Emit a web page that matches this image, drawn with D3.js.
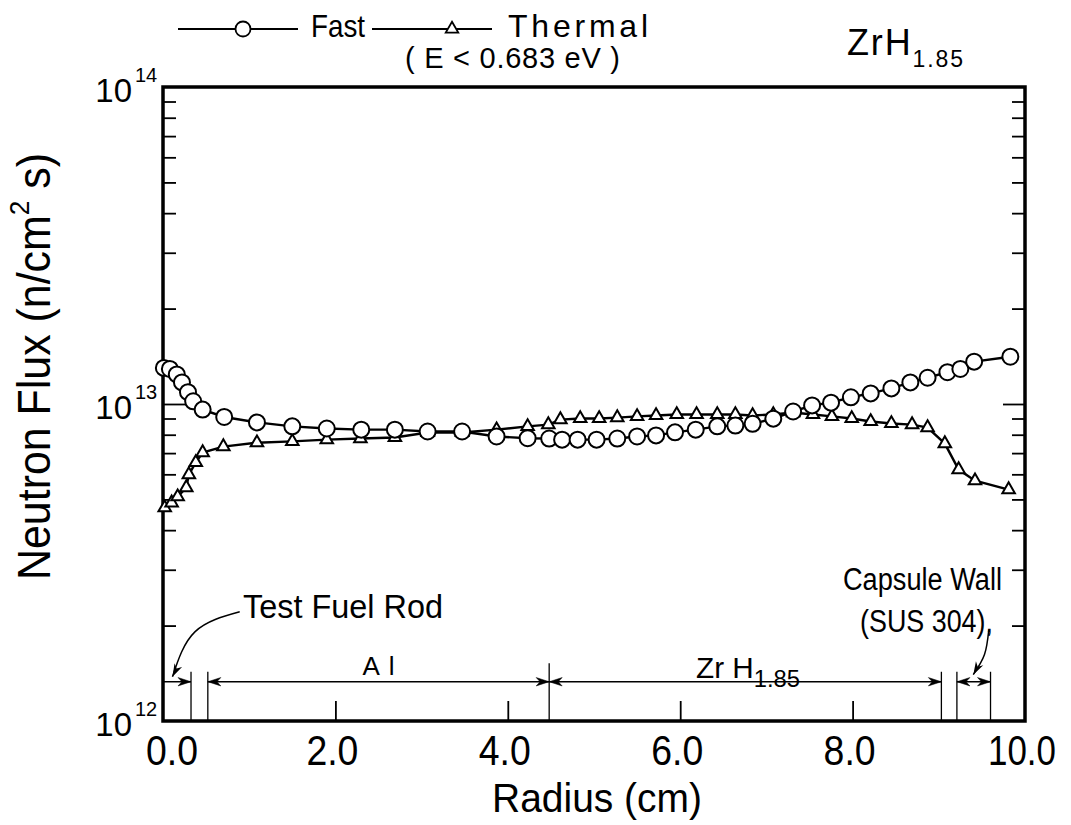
<!DOCTYPE html>
<html>
<head>
<meta charset="utf-8">
<script src="https://cdn.jsdelivr.net/npm/d3@7"></script>
<style>
  body { margin: 0; background: #fff; }
  svg { display: block; font-family: 'Liberation Sans', Arial, sans-serif; }
</style>
</head>
<body>
<div id="chart"></div>
<script>
// values: radius (cm) and flux (units of 1e12 n/cm2 s)
const fastRadius = [0.01, 0.08, 0.16, 0.22, 0.29, 0.35, 0.46, 0.71, 1.09, 1.50, 1.90, 2.30, 2.69, 3.07, 3.47, 3.87, 4.23,
  4.48, 4.63, 4.81, 5.03, 5.27, 5.50, 5.72, 5.94, 6.18, 6.43, 6.64, 6.84, 7.08, 7.31, 7.53, 7.75, 7.98, 8.21, 8.45, 8.67,
  8.87, 9.10, 9.25, 9.41, 9.83]
const fastFlux = [13.0, 12.9, 12.4, 11.7, 10.9, 10.2, 9.6, 9.1, 8.75, 8.5, 8.37, 8.3, 8.3, 8.19, 8.19, 7.9, 7.8,
  7.78, 7.72, 7.72, 7.72, 7.78, 7.9, 7.96, 8.14, 8.3, 8.5, 8.55, 8.66, 8.99, 9.47, 9.9, 10.1, 10.5, 10.8, 11.2, 11.7,
  12.1, 12.6, 12.9, 13.6, 14.1]

const thermalRadius = [0.02, 0.10, 0.17, 0.27, 0.30, 0.38, 0.46, 0.70, 1.09, 1.50, 1.90, 2.29, 2.69, 3.07, 3.47, 3.87, 4.23,
  4.47, 4.61, 4.84, 5.06, 5.27, 5.50, 5.72, 5.96, 6.19, 6.43, 6.64, 6.84, 7.08, 7.31, 7.54, 7.76, 7.99, 8.21, 8.45, 8.69,
  8.87, 9.07, 9.23, 9.42, 9.81]
const thermalFlux = [4.71, 4.88, 5.10, 5.45, 5.99, 6.54, 7.03, 7.34, 7.55, 7.62, 7.72, 7.78, 7.84, 8.13, 8.13, 8.3, 8.5,
  8.61, 8.93, 9.0, 9.0, 9.06, 9.14, 9.2, 9.27, 9.27, 9.27, 9.27, 9.2, 9.27, 9.4, 9.27, 9.14, 9.0, 8.81, 8.68, 8.61,
  8.43, 7.5, 6.21, 5.73, 5.37]

const xTicks = [0, 2, 4, 6, 8, 10]
const xTickLabels = ['0.0', '2.0', '4.0', '6.0', '8.0', '10.0']
const yDecades = [12, 13, 14]

// material boundaries (cm): fuel rod | gap | Al | ZrH1.85 | gap | capsule wall
const boundaries = [0.325, 0.52, 4.48, 9.03, 9.21, 9.6]

const W = 1071, H = 825
const x = d3.scaleLinear().domain([0, 10]).range([163, 1025])
const y = d3.scaleLog().domain([1e12, 1e14]).range([721, 87])

const svg = d3.select('#chart').append('svg')
  .attr('width', W)
  .attr('height', H)

const fast = fastRadius.map((r, i) => ({ r, v: fastFlux[i] * 1e12 }))
const thermal = thermalRadius.map((r, i) => ({ r, v: thermalFlux[i] * 1e12 }))

// the original lettering is a tall narrow face: squeeze text to its measured width,
// or spread the letters when it is already narrower
function fit(t, len) {
  const natural = t.node().getComputedTextLength()
  t.attr('textLength', len)
    .attr('lengthAdjust', natural > len ? 'spacingAndGlyphs' : 'spacing')
  return t
}
function label(g, px, py, str, size, len, anchor) {
  const t = g.append('text')
    .attr('x', px).attr('y', py)
    .attr('text-anchor', anchor || 'start')
    .style('font-size', size + 'px')
    .text(str)
  return fit(t, len)
}

// frame
svg.append('rect')
  .attr('x', x(0)).attr('y', y(1e14))
  .attr('width', x(10) - x(0)).attr('height', y(1e12) - y(1e14))
  .attr('fill', 'none').attr('stroke', '#000').attr('stroke-width', 3.5)

// minor / major ticks, all pointing inward
const minorVals = []
for (let d = 12; d < 14; d++) for (let k = 2; k <= 9; k++) minorVals.push(k * 10 ** d)

function ticks(g, axis) {
  g.call(axis.tickFormat(''))
  g.select('.domain').remove()
  g.selectAll('line').attr('stroke', '#000').attr('stroke-width', 1.8)
}
svg.append('g').attr('transform', `translate(${x(0)},0)`)
  .call(g => ticks(g, d3.axisRight(y).tickValues(minorVals).tickSize(13)))
svg.append('g').attr('transform', `translate(${x(0)},0)`)
  .call(g => ticks(g, d3.axisRight(y).tickValues([1e13]).tickSize(25)))
svg.append('g').attr('transform', `translate(${x(10)},0)`)
  .call(g => ticks(g, d3.axisLeft(y).tickValues(minorVals).tickSize(13)))
svg.append('g').attr('transform', `translate(${x(10)},0)`)
  .call(g => ticks(g, d3.axisLeft(y).tickValues([1e13]).tickSize(22)))
svg.append('g').attr('transform', `translate(0,${y(1e12)})`)
  .call(g => ticks(g, d3.axisTop(x).tickValues(xTicks.slice(1, -1)).tickSize(20)))

// tick labels
xTicks.forEach((d, i) => {
  const s = xTickLabels[i]
  label(svg, x(d) + (i === 0 ? 9 : -3), 765, s, 42, s.length > 3 ? 68 : 52, 'middle')
})
const yTick = svg.append('g')
yTick.selectAll('text.base').data(yDecades).join('text')
  .attr('class', 'base')
  .attr('x', x(0) - 31)
  .attr('y', d => y(10 ** d) + 15)
  .attr('text-anchor', 'end')
  .style('font-size', '33px')
  .text('10')
yTick.selectAll('text.exp').data(yDecades).join('text')
  .attr('class', 'exp')
  .attr('x', x(0) - 28)
  .attr('y', d => y(10 ** d) - 5)
  .style('font-size', '20px')
  .text(d => d)

// axis titles
label(svg, 597, 812, 'Radius (cm)', 40, 210, 'middle')

const yt = svg.append('text')
  .attr('transform', 'translate(50,580) rotate(-90)')
  .style('font-size', '46px')
yt.append('tspan').text('Neutron Flux (n/cm')
yt.append('tspan').attr('dy', -21).style('font-size', '28px').text('2')
yt.append('tspan').attr('dy', 21).text(' s)')
fit(yt, 427)

// curves
const line = d3.line().x(d => x(d.r)).y(d => y(d.v))
svg.append('path').datum(fast).attr('d', line)
  .attr('fill', 'none').attr('stroke', '#000').attr('stroke-width', 2.4)
svg.append('path').datum(thermal).attr('d', line)
  .attr('fill', 'none').attr('stroke', '#000').attr('stroke-width', 2.4)

const tri = d3.symbol().type(d3.symbolTriangle).size(68)
svg.append('g').selectAll('path').data(thermal).join('path')
  .attr('transform', d => `translate(${x(d.r)},${y(d.v)})`)
  .attr('d', tri)
  .attr('fill', '#fff').attr('stroke', '#000').attr('stroke-width', 2)
svg.append('g').selectAll('circle').data(fast).join('circle')
  .attr('cx', d => x(d.r)).attr('cy', d => y(d.v)).attr('r', 8)
  .attr('fill', '#fff').attr('stroke', '#000').attr('stroke-width', 2)

// legend
const lg = svg.append('g')
lg.append('line').attr('x1', 178).attr('x2', 298).attr('y1', 29).attr('y2', 29).attr('stroke', '#000').attr('stroke-width', 2)
lg.append('circle').attr('cx', 243).attr('cy', 29).attr('r', 7.5).attr('fill', '#fff').attr('stroke', '#000').attr('stroke-width', 1.8)
label(lg, 311, 37, 'Fast', 32, 54)
lg.append('line').attr('x1', 372).attr('x2', 492).attr('y1', 29).attr('y2', 29).attr('stroke', '#000').attr('stroke-width', 2)
lg.append('path').attr('transform', 'translate(452,29)').attr('d', tri).attr('fill', '#fff').attr('stroke', '#000').attr('stroke-width', 1.8)
label(lg, 508, 37, 'Thermal', 32, 140)
label(lg, 405, 68, '( E < 0.683 eV )', 29, 215)

const zt = svg.append('text').attr('x', 847).attr('y', 55).style('font-size', '36px')
zt.append('tspan').text('ZrH')
zt.append('tspan').attr('dy', 12).style('font-size', '23px').text('1.85')
fit(zt, 116)

// material regions along the bottom
const dimY = y(1.33e12)
const ann = svg.append('g').attr('stroke', '#000')
ann.selectAll('line').data(boundaries).join('line')
  .attr('x1', d => x(d)).attr('x2', d => x(d))
  .attr('y1', (d, i) => i === 2 ? y(1.52e12) : y(1.43e12)).attr('y2', y(1e12))
  .attr('stroke-width', 1.3)

function arrowHead(tip, ang) {
  const len = 13, half = 4.2
  const c = Math.cos(ang), s = Math.sin(ang)
  const bx = tip[0] - len * c, by = tip[1] - len * s
  const mx = tip[0] - len * 0.7 * c, my = tip[1] - len * 0.7 * s
  return `M${tip[0]},${tip[1]}L${bx - half * s},${by + half * c}L${mx},${my}L${bx + half * s},${by - half * c}Z`
}

const spans = [[0, boundaries[0], false, true], [boundaries[1], boundaries[2], true, true],
  [boundaries[2], boundaries[3], true, true], [boundaries[4], boundaries[5], true, true]]
spans.forEach(([a, b, headA, headB]) => {
  ann.append('line').attr('x1', x(a)).attr('x2', x(b)).attr('y1', dimY).attr('y2', dimY).attr('stroke-width', 1.5)
  if (headA) ann.append('path').attr('d', arrowHead([x(a), dimY], Math.PI)).attr('fill', '#000').attr('stroke-width', 0.5)
  if (headB) ann.append('path').attr('d', arrowHead([x(b), dimY], 0)).attr('fill', '#000').attr('stroke-width', 0.5)
})

label(svg, x((boundaries[1] + boundaries[2]) / 2), 675, 'Al', 26, 32, 'middle')
const zr = svg.append('text').attr('x', 696).attr('y', 678).style('font-size', '30px')
zr.append('tspan').text('Zr H')
zr.append('tspan').attr('dy', 9).style('font-size', '24px').text('1.85')
fit(zr, 104)

// curved leader arrows
const curve = d3.line().x(d => x(d[0])).y(d => y(d[1])).curve(d3.curveNatural)
function leader(pts) {
  svg.append('path').attr('d', curve(pts)).attr('fill', 'none').attr('stroke', '#000').attr('stroke-width', 1.5)
  const p = pts[pts.length - 1], q = pts[pts.length - 2]
  const ang = Math.atan2(y(p[1]) - y(q[1]), x(p[0]) - x(q[0]))
  svg.append('path').attr('d', arrowHead([x(p[0]), y(p[1])], ang)).attr('fill', '#000')
}
leader([[0.89, 2.21e12], [0.37, 1.91e12], [0.11, 1.38e12]])
leader([[9.58, 1.94e12], [9.53, 1.62e12], [9.40, 1.40e12]])

label(svg, 243, 618, 'Test Fuel Rod', 34, 200)
label(svg, 843, 590, 'Capsule Wall', 31, 159)
label(svg, 860, 632, '(SUS 304),', 31, 133)
</script>
</body>
</html>
